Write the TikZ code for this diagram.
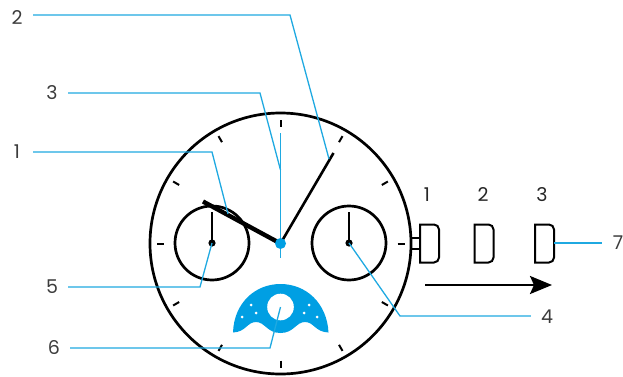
\documentclass[tikz,border=0pt]{standalone}
\usepackage{fontspec}
\setmainfont{Poppins}
\usetikzlibrary{arrows.meta,calc}
\definecolor{leadblue}{HTML}{1FA9E1}
\definecolor{moonblue}{HTML}{009FE3}
\definecolor{lblgray}{HTML}{3C3C3C}
\tikzset{
  lbl/.style={font=\fontsize{19pt}{21pt}\selectfont, text=lblgray, inner sep=0pt, minimum width=32pt, minimum height=14pt, align=center},
  num/.style={lbl, minimum width=0pt, text=black!85},
  lead/.style={draw=leadblue, line width=1.3pt},
  rim/.style={draw=black, line width=2.7pt},
  tick/.style={draw=black, line width=2pt},
  crown/.style={draw=black, line width=2pt, rounded corners=5pt},
  arr/.style={-{Triangle[length=22pt, width=18pt, inset=4pt]}, line width=2.4pt}
}
\begin{document}
\begin{tikzpicture}[x=1pt, y=-1pt]
  \useasboundingbox (0,0) rectangle (623,377);
  % --- dial ------------------------------------------------------------
  \coordinate (hub) at (280.5,243.5);
  \draw[rim] (hub) circle (130.5pt);
  \foreach \a in {0,30,...,330}
    \draw[tick] ($(hub)+(\a:117pt)$) -- ($(hub)+(\a:124pt)$);
  \coordinate (subl) at (212,243);
  \coordinate (subr) at (349,243);
  \draw[rim] (subl) circle (37pt);
  \draw[rim] (subr) circle (37pt);
  \draw[line width=1.6pt] (subl) -- (212,212);
  \draw[line width=1.6pt] (subr) -- (349,212);
  \fill (subl) circle (3.6pt);
  \fill (subr) circle (3.6pt);

  % --- hands -----------------------------------------------------------
  \coordinate (hourtip) at (203,201.5);
  \coordinate (mintip) at (333.5,153);
  \coordinate (sectip) at (280.5,133);
  \coordinate (sectail) at (280.5,258);
  \draw[line width=4.4pt] (hub) -- (hourtip);
  \draw[line width=2.6pt] (hub) -- (mintip);
  \draw[lead] (sectip) -- (sectail);
  \fill[moonblue] (hub) circle (5.5pt);

  % --- moon window -----------------------------------------------------
  \fill[moonblue] (233,332.5) .. controls (234,303) and (255,284) .. (280.5,284)
    .. controls (306,284) and (327,303) .. (328.5,332.5)
    .. controls (315,332) and (314,322) .. (305,322)
    .. controls (296,322) and (294,333) .. (280.5,333)
    .. controls (267,333) and (265,322) .. (256,322)
    .. controls (247,322) and (246,332) .. (233,332.5) -- cycle;
  \coordinate (moon) at (280.5,307);
  \fill[white] (moon) circle (13.3pt);
  \foreach \x/\y in {251/305,256/313,242/317,309/305,304/313,317/317}
    \fill[white] (\x,\y) circle (1.5pt);

  % --- crown positions -------------------------------------------------
  \draw[line width=1.6pt] (411,238) -- (419.5,238) (411,249) -- (419.5,249);
  \foreach \x/\n in {420/1,474.5/2,535/3}{
    \draw[crown] (\x,224.5) [sharp corners] -- (\x+10,224.5) [rounded corners=5pt]
      -- (\x+19,224.5) -- (\x+19,262.5) [sharp corners] -- (\x+10,262.5) -- (\x,262.5) -- cycle;
    \coordinate (crown\n) at (\x+19,243);
  }
  \node[num] (pos1) at (427,195) {1};
  \node[num] (pos2) at (483,195) {2};
  \node[num] (pos3) at (542,195) {3};
  \coordinate (arrs) at (425,285);
  \coordinate (arre) at (552,285);
  \draw[arr] (arrs) -- (arre);

  % --- callouts --------------------------------------------------------
  \node[lbl] (one) at (17,152) {1};
  \node[lbl] (two) at (17,18) {2};
  \node[lbl] (three) at (52,93) {3};
  \node[lbl] (five) at (52,287) {5};
  \node[lbl] (six) at (54,348) {6};
  \node[lbl] (four) at (547,317) {4};
  \node[lbl] (seven) at (618,243) {7};

  \coordinate (onebend) at (212,152);
  \coordinate (onetip) at (228,214);
  \coordinate (twobend) at (290,15);
  \coordinate (twotip) at (329,159);
  \coordinate (threebend) at (260,93);
  \coordinate (threetip) at (280.5,170);
  \coordinate (fivebend) at (200,287);
  \coordinate (sixbend) at (270,348);
  \coordinate (fourbend) at (400,316);

  \draw[lead] (one.east) -- (onebend) -- (onetip);
  \draw[lead] (two.east |- twobend) -- (twobend) -- (twotip);
  \draw[lead] (three.east) -- (threebend) -- (threetip);
  \draw[lead] (five.east) -- (fivebend) -- (subl);
  \draw[lead] (six.east) -- (sixbend) -- (moon);
  \draw[lead] (four.west |- fourbend) -- (fourbend) -- (subr);
  \draw[lead] (seven.west) -- (crown3);
\end{tikzpicture}
\end{document}
